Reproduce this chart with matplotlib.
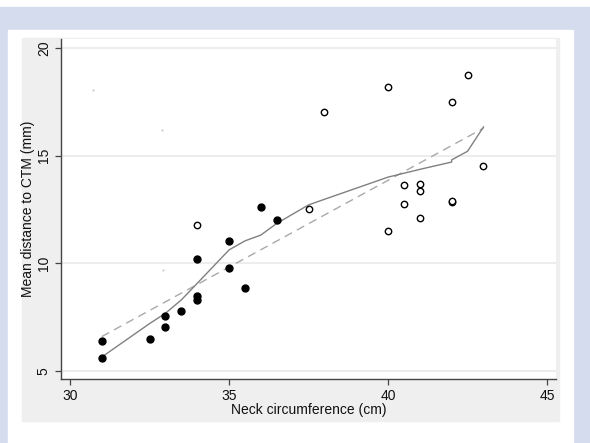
import matplotlib
matplotlib.use("Agg")
import matplotlib.pyplot as plt
from matplotlib.patches import Rectangle

# ---------- data ----------
filled_x = [31, 31, 32.5, 33, 33, 33.5, 34, 34, 34, 35, 35, 35.5, 36, 36.5]
filled_y = [6.4, 5.6, 6.5, 7.55, 7.05, 7.8, 10.2, 8.5, 8.3, 11.05, 9.8, 8.85, 12.6, 12.0]

hollow_x = [34, 37.5, 38, 40, 40, 40.5, 40.5, 41, 41, 41, 42, 42, 42, 42.5, 43]
hollow_y = [11.8, 12.5, 17.0, 18.2, 11.5, 13.65, 12.75, 13.7, 13.35, 12.1, 17.5, 12.85, 12.9, 18.75, 14.5]

# lowess smooth
low_x = [31, 32.5, 33, 33.5, 34, 35, 35.5, 36, 36.5, 37.5, 38, 40, 40.5, 41, 42, 42, 42.5, 43]
low_y = [5.65, 7.2, 7.68, 8.3, 9.07, 10.62, 11.04, 11.31, 11.85, 12.71, 12.97, 14.0, 14.18, 14.36, 14.7, 14.8, 15.2, 16.33]

# linear fit
fit_x = [31, 43]
fit_y = [6.6, 16.27]

# stray specks in the scan
speck_x = [30.71, 32.88, 32.92]
speck_y = [18.05, 16.19, 9.69]

x_ticks = [30, 35, 40, 45]
y_ticks = [5, 10, 15, 20]

plt.rcParams['font.family'] = ['Liberation Sans', 'DejaVu Sans']

W, H = 590, 443
fig = plt.figure(figsize=(W/100, H/100), dpi=100, facecolor="white")

def box(x0, y0, x1, y1, color):
    # pixel box (top-left origin) -> figure patch
    fig.patches.append(Rectangle((x0/W, 1 - y1/H), (x1-x0)/W, (y1-y0)/H,
                                 transform=fig.transFigure, color=color, zorder=-3))

box(0, 7, 590, 443, "#d4dcee")     # blue frame
box(8, 30, 573, 443, "white")      # white panel
box(22, 38, 559, 421, "#efefef")   # graph region

ax = fig.add_axes([61/W, 1 - 379/H, 495/W, 340/H])
ax.set_facecolor("white")

ax.set_xlim(29.717, 45.28)
ax.set_ylim(4.63, 20.41)

for yv in y_ticks:
    ax.axhline(yv, color="#ececec", lw=1.3, zorder=0)

ax.plot(fit_x, fit_y, color="#a9a9a9", lw=1.0, dashes=(6, 4), zorder=2)
ax.plot(low_x, low_y, color="#808080", lw=1.0, zorder=2)

ax.plot(filled_x, filled_y, "o", ms=5, color="black", zorder=3)
ax.plot(hollow_x, hollow_y, "o", ms=4.6, mfc="white", mec="black", mew=1.0, zorder=3)
ax.plot(speck_x, speck_y, "s", ms=1.2, color="#bbbbbb", mew=0, zorder=1)

ax.set_xticks(x_ticks)
ax.set_yticks(y_ticks)
ax.set_yticklabels([str(v) for v in y_ticks], rotation=90, va="center")
ax.tick_params(length=4.3, width=0.9, color="#444444", labelsize=10, pad=3,
               labelcolor="#111111")

for s in ("top", "right"):
    ax.spines[s].set_visible(False)
for s in ("left", "bottom"):
    ax.spines[s].set_color("#444444")
    ax.spines[s].set_linewidth(1.0)

ax.set_xlabel("Neck circumference (cm)", fontsize=10, labelpad=0, color="#111111")
ax.set_ylabel("Mean distance to CTM (mm)", fontsize=10, labelpad=1, color="#111111")

fig.savefig("out.png", dpi=100, facecolor=fig.get_facecolor())
